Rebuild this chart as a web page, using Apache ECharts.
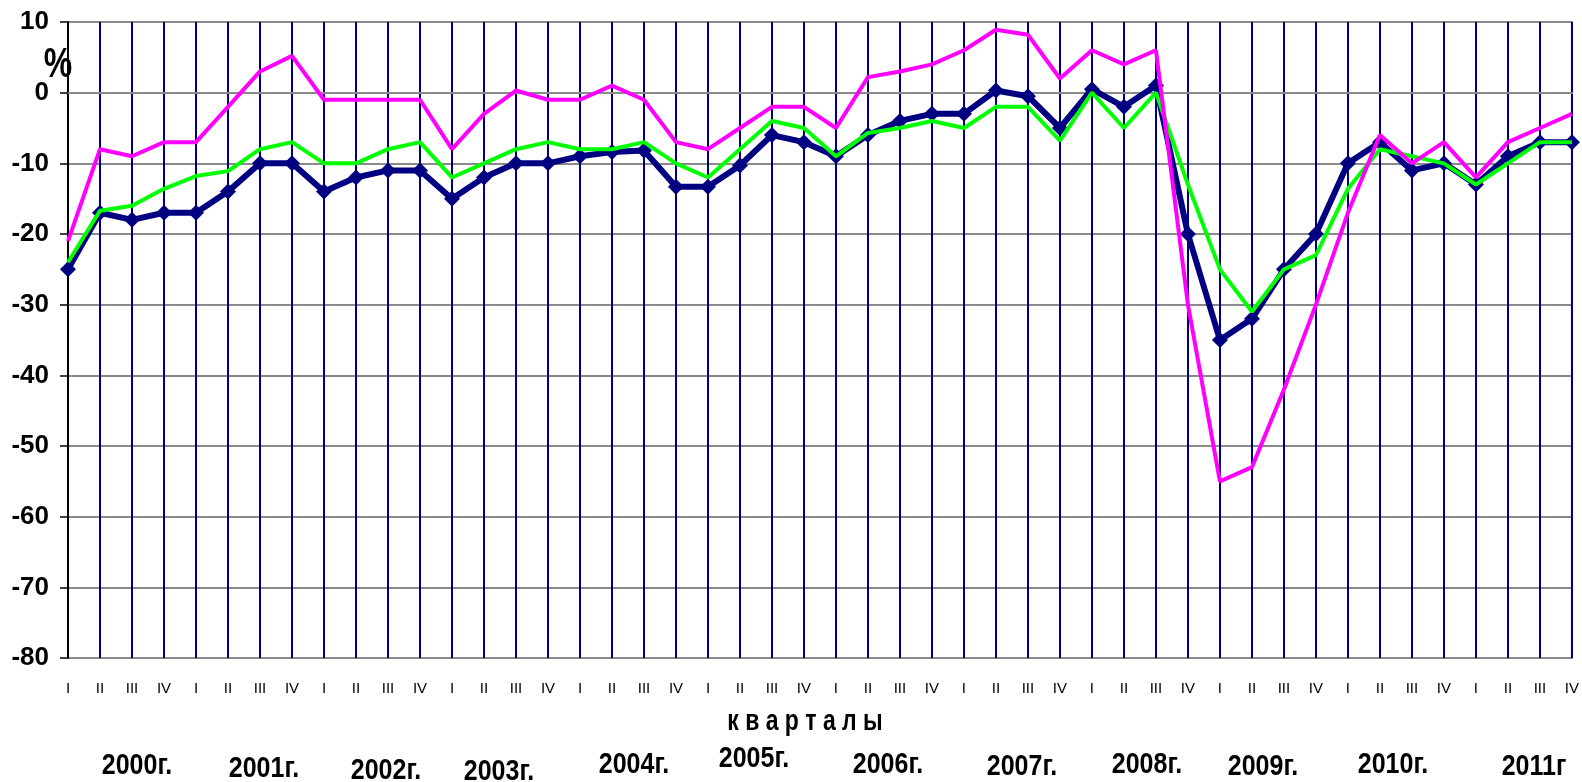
<!DOCTYPE html>
<html>
<head>
<meta charset="utf-8">
<script src="https://cdn.jsdelivr.net/npm/echarts@6/dist/echarts.min.js"></script>
<style>
  html, body { margin: 0; padding: 0; background: #fff; }
  #chart { width: 1582px; height: 782px; }
</style>
</head>
<body>
<div id="chart"></div>
<script>
// quarters 2000 I .. 2011 IV
const quarterNames = ["I", "II", "III", "IV"];
const years = ["2000г.", "2001г.", "2002г.", "2003г.", "2004г.", "2005г.",
  "2006г.", "2007г.", "2008г.", "2009г.", "2010г.", "2011г"];

// dark blue line with diamonds
const seriesNavy = [-25, -17, -18, -17, -17, -14, -10, -10, -14, -12, -11,
  -11, -15, -12, -10, -10, -9, -8.4, -8.2, -13.3, -13.3, -10.3, -6,
  -7, -9, -6, -4, -3, -3, 0.3, -0.5, -5, 0.5, -2, 1,
  -20, -35, -32, -25, -20, -10, -7, -11, -10, -13, -9, -7, -7];

// green line
const seriesGreen = [-24, -16.7, -16, -13.6, -11.8, -11.1, -8, -7, -10, -10, -8,
  -7, -12, -10, -8, -7, -8, -8, -7, -10, -12, -8, -4,
  -5, -9, -5.7, -5, -4, -5, -2, -2, -6.8, 0, -5, 0,
  -13, -25, -31, -25, -23, -13.6, -8, -9, -10, -13, -10, -7, -7];

// magenta line
const seriesMagenta = [-21, -8, -9, -7, -7, -2, 3, 5.2, -1, -1, -1,
  -1, -8, -3, 0.3, -1, -1, 1, -1, -7, -8, -5, -2,
  -2, -5, 2.2, 3, 4, 6, 8.9, 8.2, 2, 6, 4, 6,
  -30, -55, -53, -42, -30, -17, -6, -10, -7, -12, -7, -5, -3];

const categories = [];
years.forEach(() => quarterNames.forEach((q) => categories.push(q)));

// where the year captions sit under the axis (pixels)
const yearPos = [[137, 766], [264, 769], [386, 771], [499, 772], [634, 765], [754, 759],
  [888, 765], [1022, 767], [1147, 765], [1263, 767], [1393, 765], [1534, 767]];

const sans = "'Liberation Sans', Arial, sans-serif";

// bold caption, stretched a little in height like the original
function caption(text, x, y, size, sy) {
  return {
    type: "text", x: x, y: y, scaleY: sy,
    style: {
      text: text, fontFamily: sans, fontWeight: "bold", fontSize: size,
      fill: "#000", align: "center", verticalAlign: "middle"
    }
  };
}

const chart = echarts.init(document.getElementById("chart"));

chart.setOption({
  animation: false,
  backgroundColor: "#fff",
  grid: {
    left: 68, right: 8, top: 22, bottom: 124,
    show: true, borderColor: "#8a8a8a", borderWidth: 2
  },
  xAxis: {
    type: "category",
    data: categories,
    boundaryGap: false,
    axisLine: { lineStyle: { color: "#8a8a8a", width: 2 } },
    axisTick: { show: false },
    axisLabel: {
      interval: 0, margin: 23, fontFamily: sans,
      fontSize: 15, color: "#000"
    },
    splitLine: { show: true, interval: 0, lineStyle: { color: "#000080", width: 2 } }
  },
  yAxis: {
    type: "value",
    min: -80, max: 10, interval: 10,
    axisLine: { show: true, lineStyle: { color: "#000", width: 2 } },
    axisTick: { show: true, length: 8, lineStyle: { color: "#000", width: 1.5 } },
    axisLabel: {
      margin: 19, fontFamily: sans,
      fontWeight: "bold", fontSize: 26, color: "#000"
    },
    splitLine: { lineStyle: { color: "#8a8a8a", width: 2 } }
  },
  graphic: [
    caption("%", 58, 66, 32, 1.3),
    caption("к в а р т а л ы", 805, 722, 23, 1.25)
  ].concat(years.map((y, i) => caption(y, yearPos[i][0], yearPos[i][1], 25, 1.18))),
  series: [
    {
      name: "ряд 1",
      type: "line",
      data: seriesNavy,
      z: 2,
      symbol: "diamond",
      symbolSize: 16,
      itemStyle: { color: "#000080" },
      lineStyle: { color: "#000080", width: 6 }
    },
    {
      name: "ряд 2",
      type: "line",
      data: seriesGreen,
      z: 3,
      showSymbol: false,
      lineStyle: { color: "#00ff00", width: 4 }
    },
    {
      name: "ряд 3",
      type: "line",
      data: seriesMagenta,
      z: 4,
      showSymbol: false,
      lineStyle: { color: "#ff00ff", width: 4 }
    }
  ]
});
</script>
</body>
</html>
